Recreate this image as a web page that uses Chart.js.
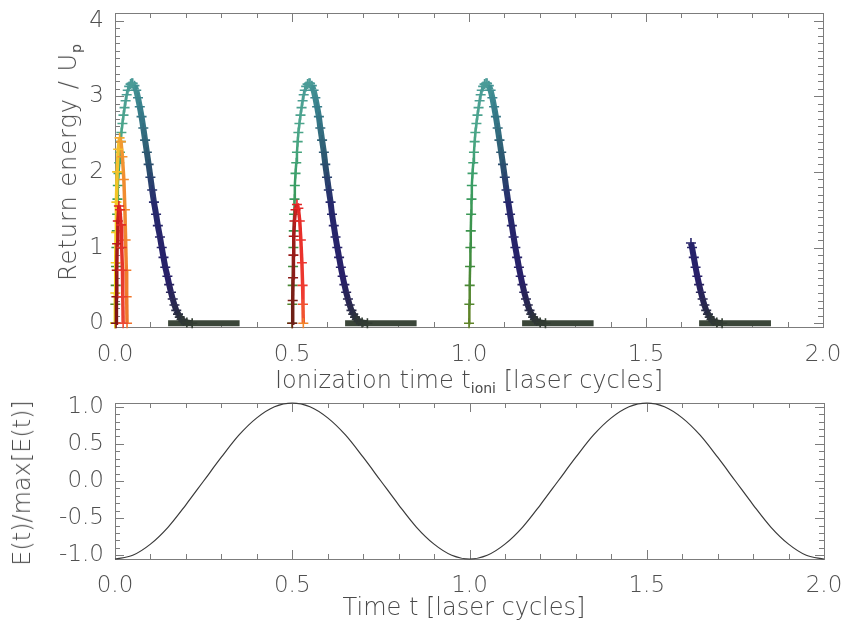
<!DOCTYPE html>
<html>
<head>
<meta charset="utf-8">
<script src="https://cdn.jsdelivr.net/npm/chart.js@4.4.1/dist/chart.umd.min.js"></script>
<style>
  html, body { margin: 0; padding: 0; background: #fff; }
  #wrap { position: relative; width: 844px; height: 628px; overflow: hidden; font-family: "DejaVu Sans", sans-serif; font-weight: 200; color: #4a4a4a; }
  canvas { position: absolute; left: 0; }
  #topChart { top: 0; }
  #bottomChart { top: 390px; }
  .axisTitle { position: absolute; font-size: 24px; white-space: nowrap; }
  .axisTitle sub { font-size: 14px; vertical-align: -5px; font-weight: 400; }
  .vert { transform: translate(-50%, -50%) rotate(-90deg); }
  .horiz { transform: translate(-50%, -50%); }
</style>
</head>
<body>
<div id="wrap">
  <canvas id="topChart" width="844" height="390"></canvas>
  <canvas id="bottomChart" width="844" height="238"></canvas>
  <div class="axisTitle horiz" style="left:469px; top:381px;">Ionization time t<sub>ioni</sub> [laser cycles]</div>
  <div class="axisTitle vert" style="left:69px; top:162px; letter-spacing:1px;">Return energy / U<sub>p</sub></div>
  <div class="axisTitle horiz" style="left:464px; top:607px;">Time t [laser cycles]</div>
  <div class="axisTitle vert" style="left:22px; top:483px;">E(t)/max[E(t)]</div>
</div>
<script>
// ---- top panel: return energy vs ionization time ----
// rising (green) branch, same energies each half cycle
const riseEnergy = [0.00, 0.25, 0.50, 0.75, 1.00, 1.22, 1.44, 1.64, 1.82, 1.98, 2.12, 2.26, 2.40, 2.52, 2.64, 2.75, 2.85, 2.94, 3.02, 3.08, 3.13, 3.16, 3.17];
const rise1Time = [0.000, 0.001, 0.002, 0.003, 0.004, 0.005, 0.006, 0.007, 0.008, 0.010, 0.012, 0.014, 0.016, 0.018, 0.021, 0.024, 0.027, 0.030, 0.033, 0.036, 0.040, 0.044, 0.047];
const rise2Time = [0.500, 0.501, 0.502, 0.503, 0.504, 0.505, 0.506, 0.507, 0.508, 0.510, 0.512, 0.514, 0.516, 0.518, 0.521, 0.524, 0.527, 0.530, 0.533, 0.536, 0.540, 0.544, 0.548];
const rise3Time = [1.000, 1.001, 1.002, 1.003, 1.004, 1.005, 1.006, 1.007, 1.008, 1.010, 1.012, 1.014, 1.016, 1.018, 1.021, 1.024, 1.027, 1.030, 1.033, 1.036, 1.040, 1.044, 1.048];

// falling (blue) branch
const fallEnergy = [3.17, 3.14, 3.08, 2.98, 2.86, 2.73, 2.58, 2.42, 2.26, 2.10, 1.93, 1.76, 1.60, 1.44, 1.29, 1.14, 1.00, 0.87, 0.74, 0.62, 0.51, 0.41, 0.32, 0.24, 0.17, 0.12, 0.08, 0.05, 0.03, 0.01, 0.00];
const fall1Time = [0.050, 0.055, 0.060, 0.065, 0.070, 0.075, 0.080, 0.085, 0.090, 0.095, 0.100, 0.105, 0.110, 0.116, 0.121, 0.127, 0.132, 0.137, 0.142, 0.148, 0.153, 0.158, 0.163, 0.168, 0.173, 0.178, 0.183, 0.188, 0.193, 0.203, 0.218];
const fall2Time = [0.551, 0.556, 0.561, 0.566, 0.571, 0.576, 0.580, 0.585, 0.590, 0.594, 0.599, 0.604, 0.609, 0.613, 0.618, 0.623, 0.628, 0.633, 0.638, 0.643, 0.648, 0.653, 0.658, 0.663, 0.668, 0.673, 0.678, 0.683, 0.688, 0.698, 0.713];
const fall3Time = [1.051, 1.056, 1.061, 1.066, 1.071, 1.076, 1.081, 1.086, 1.091, 1.096, 1.101, 1.106, 1.111, 1.116, 1.121, 1.126, 1.131, 1.136, 1.141, 1.146, 1.151, 1.156, 1.161, 1.166, 1.171, 1.176, 1.181, 1.186, 1.191, 1.201, 1.216];
const fall4Energy = [1.06, 1.00, 0.87, 0.74, 0.62, 0.51, 0.41, 0.32, 0.24, 0.17, 0.12, 0.08, 0.05, 0.03, 0.01, 0.00];
const fall4Time = [1.627, 1.630, 1.635, 1.640, 1.645, 1.650, 1.655, 1.660, 1.665, 1.670, 1.675, 1.680, 1.685, 1.690, 1.700, 1.715];

// later returns (yellow / red)
const yellow1Time = [0.000, 0.001, 0.002, 0.003, 0.004, 0.006, 0.009, 0.013, 0.017, 0.021, 0.025, 0.028, 0.030, 0.032, 0.033, 0.034];
const yellow1Energy = [0.00, 0.40, 0.80, 1.20, 1.60, 2.00, 2.30, 2.45, 2.40, 2.20, 1.90, 1.50, 1.10, 0.70, 0.35, 0.00];
const red1Time = [0.003, 0.004, 0.005, 0.006, 0.008, 0.011, 0.014, 0.017, 0.019, 0.021, 0.022, 0.023];
const red1Energy = [0.00, 0.35, 0.70, 1.05, 1.35, 1.55, 1.50, 1.30, 1.00, 0.70, 0.35, 0.00];
const red2Time = [0.501, 0.502, 0.503, 0.504, 0.505, 0.507, 0.510, 0.514, 0.518, 0.522, 0.525, 0.528, 0.530, 0.531, 0.532];
const red2Energy = [0.00, 0.30, 0.60, 0.90, 1.15, 1.35, 1.50, 1.57, 1.52, 1.35, 1.10, 0.80, 0.50, 0.25, 0.00];

// non returning trajectories sitting on zero
const bandStart = [0.150, 0.650, 1.150, 1.650];
const bandEnd = [0.352, 0.852, 1.352, 1.853];

// ---- bottom panel: laser field ----
const fieldTime = [0.00, 0.05, 0.10, 0.15, 0.20, 0.25, 0.30, 0.35, 0.40, 0.45, 0.50, 0.55, 0.60, 0.65, 0.70, 0.75, 0.80, 0.85, 0.90, 0.95, 1.00,
                   1.05, 1.10, 1.15, 1.20, 1.25, 1.30, 1.35, 1.40, 1.45, 1.50, 1.55, 1.60, 1.65, 1.70, 1.75, 1.80, 1.85, 1.90, 1.95, 2.00];
const fieldValue = [-1.05, -1.00, -0.85, -0.62, -0.32, 0.00, 0.32, 0.62, 0.85, 1.00, 1.05, 1.00, 0.85, 0.62, 0.32, 0.00, -0.32, -0.62, -0.85, -1.00, -1.05,
                    -1.00, -0.85, -0.62, -0.32, 0.00, 0.32, 0.62, 0.85, 1.00, 1.05, 1.00, 0.85, 0.62, 0.32, 0.00, -0.32, -0.62, -0.85, -1.00, -1.05];

const xTickLabels = ["0.0", "0.5", "1.0", "1.5", "2.0"];

// colour ramps
const riseStops = [[0, [96, 132, 40]], [0.8, [62, 140, 62]], [1.8, [58, 158, 100]], [2.6, [76, 166, 140]], [3.2, [74, 154, 152]]];
const fallStops = [[0, [50, 60, 50]], [0.15, [40, 42, 70]], [0.6, [40, 32, 104]], [1.6, [38, 40, 108]], [2.2, [44, 84, 110]], [2.9, [56, 128, 140]], [3.2, [70, 152, 150]]];
const yellowStops = [[0, [240, 212, 30]], [0.4, [245, 190, 45]], [0.55, [242, 150, 50]], [1, [240, 112, 42]]];
const red1Stops = [[0, [125, 20, 20]], [0.45, [220, 32, 32]], [1, [236, 72, 52]]];
const red2Stops = [[0, [110, 32, 22]], [0.3, [170, 26, 26]], [0.5, [226, 36, 36]], [0.9, [240, 62, 50]], [1, [242, 132, 42]]];

function ramp(stops, v) {
    if (v <= stops[0][0]) return "rgb(" + stops[0][1].join(",") + ")";
    for (let i = 1; i < stops.length; i++) {
        if (v <= stops[i][0]) {
            const f = (v - stops[i - 1][0]) / (stops[i][0] - stops[i - 1][0]);
            const c = stops[i][1].map((c1, k) => Math.round(stops[i - 1][1][k] + (c1 - stops[i - 1][1][k]) * f));
            return "rgb(" + c.join(",") + ")";
        }
    }
    return "rgb(" + stops[stops.length - 1][1].join(",") + ")";
}

// colour by energy or by position along the branch
function branch(times, energies, stops, byIndex, lineWidth, order) {
    const n = times.length;
    const colorAt = (i) => byIndex ? ramp(stops, i / (n - 1)) : ramp(stops, energies[i]);
    return {
        data: times.map((t, i) => ({ x: t, y: energies[i] })),
        showLine: true,
        borderWidth: lineWidth,
        borderColor: colorAt(0),
        segment: { borderColor: ctx => colorAt(ctx.p0DataIndex) },
        pointStyle: "cross",
        pointRadius: 5,
        pointBorderWidth: 1.6,
        pointBorderColor: ctx => colorAt(ctx.dataIndex),
        pointBackgroundColor: "transparent",
        clip: false,
        order: order
    };
}

const topDatasets = [];
bandStart.forEach((s, i) => {
    topDatasets.push({
        data: [{ x: s, y: 0 }, { x: bandEnd[i], y: 0 }],
        showLine: true, borderColor: "#3b4639", borderWidth: 6, pointRadius: 0,
        borderCapStyle: "butt", clip: false, order: 9
    });
});
topDatasets.push(branch(fall1Time, fallEnergy, fallStops, false, 6, 8));
topDatasets.push(branch(fall2Time, fallEnergy, fallStops, false, 6, 8));
topDatasets.push(branch(fall3Time, fallEnergy, fallStops, false, 6, 8));
topDatasets.push(branch(fall4Time, fall4Energy, fallStops, false, 6, 8));
topDatasets.push(branch(rise1Time, riseEnergy, riseStops, false, 2.5, 7));
topDatasets.push(branch(rise2Time, riseEnergy, riseStops, false, 2.5, 7));
topDatasets.push(branch(rise3Time, riseEnergy, riseStops, false, 2.5, 7));
topDatasets.push(branch(yellow1Time, yellow1Energy, yellowStops, true, 3.5, 5));
topDatasets.push(branch(red1Time, red1Energy, red1Stops, true, 3.5, 4));
topDatasets.push(branch(red2Time, red2Energy, red2Stops, true, 3.5, 4));

// IDL style frame with inward ticks on all four sides
const frameTicks = {
    id: "frameTicks",
    beforeDatasetsDraw(chart, args, opts) {
        const { ctx, chartArea: a, scales: { x, y } } = chart;
        ctx.save();
        ctx.strokeStyle = "#7c7c7c";
        ctx.lineWidth = 1;
        ctx.strokeRect(Math.round(a.left) + 0.5, Math.round(a.top) + 0.5, Math.round(a.width), Math.round(a.height));
        ctx.beginPath();
        for (let k = 0; k <= 20; k++) {
            const px = Math.round(x.getPixelForValue(k / 10)) + 0.5;
            const len = k % 5 === 0 ? 9 : 5;
            ctx.moveTo(px, a.bottom); ctx.lineTo(px, a.bottom - len);
            ctx.moveTo(px, a.top); ctx.lineTo(px, a.top + len);
        }
        for (let k = opts.yFrom; k <= opts.yTo; k++) {
            const py = Math.round(y.getPixelForValue(k / 10)) + 0.5;
            const len = k % opts.yMajor === 0 ? 9 : 5;
            ctx.moveTo(a.left, py); ctx.lineTo(a.left + len, py);
            ctx.moveTo(a.right, py); ctx.lineTo(a.right - len, py);
        }
        ctx.stroke();
        ctx.restore();
    }
};

const tickFont = { family: "'DejaVu Sans', sans-serif", size: 23, weight: "200" };

function xScale(height, pad) {
    return {
        type: "linear", min: 0, max: 2,
        grid: { display: false }, border: { display: false },
        ticks: { stepSize: 0.5, font: tickFont, color: "#505050", padding: pad, maxRotation: 0,
                 callback: (v) => xTickLabels[Math.round(v * 2)] },
        afterFit: (s) => { s.height = height; s.paddingLeft = 0; s.paddingRight = 0; }
    };
}

function yScale(min, max, step, fmt) {
    return {
        type: "linear", min: min, max: max,
        grid: { display: false }, border: { display: false },
        ticks: { stepSize: step, includeBounds: false, font: tickFont, color: "#505050", padding: 3, callback: fmt },
        afterFit: (s) => { s.width = 115; s.paddingTop = 0; s.paddingBottom = 0; }
    };
}

new Chart(document.getElementById("topChart"), {
    type: "scatter",
    data: { datasets: topDatasets },
    options: {
        responsive: false, animation: false, devicePixelRatio: 1,
        layout: { padding: { top: 13, right: 21, left: 0, bottom: 0 } },
        plugins: { legend: { display: false }, tooltip: { enabled: false },
                   frameTicks: { yFrom: 0, yTo: 40, yMajor: 10 } },
        scales: {
            x: xScale(63, 6),
            y: yScale(-0.05, 4.1, 1, (v) => String(v))
        }
    },
    plugins: [frameTicks]
});

new Chart(document.getElementById("bottomChart"), {
    type: "scatter",
    data: {
        datasets: [{
            data: fieldTime.map((t, i) => ({ x: t, y: fieldValue[i] })),
            showLine: true, borderColor: "#3a3a3a", borderWidth: 1.2, pointRadius: 0,
            cubicInterpolationMode: "monotone", clip: false
        }]
    },
    options: {
        responsive: false, animation: false, devicePixelRatio: 1,
        layout: { padding: { top: 13, right: 20, left: 0, bottom: 0 } },
        plugins: { legend: { display: false }, tooltip: { enabled: false },
                   frameTicks: { yFrom: -10, yTo: 10, yMajor: 5 } },
        scales: {
            x: xScale(69, 5),
            y: yScale(-1.05, 1.05, 0.5, (v) => v.toFixed(1))
        }
    },
    plugins: [frameTicks]
});
</script>
</body>
</html>
